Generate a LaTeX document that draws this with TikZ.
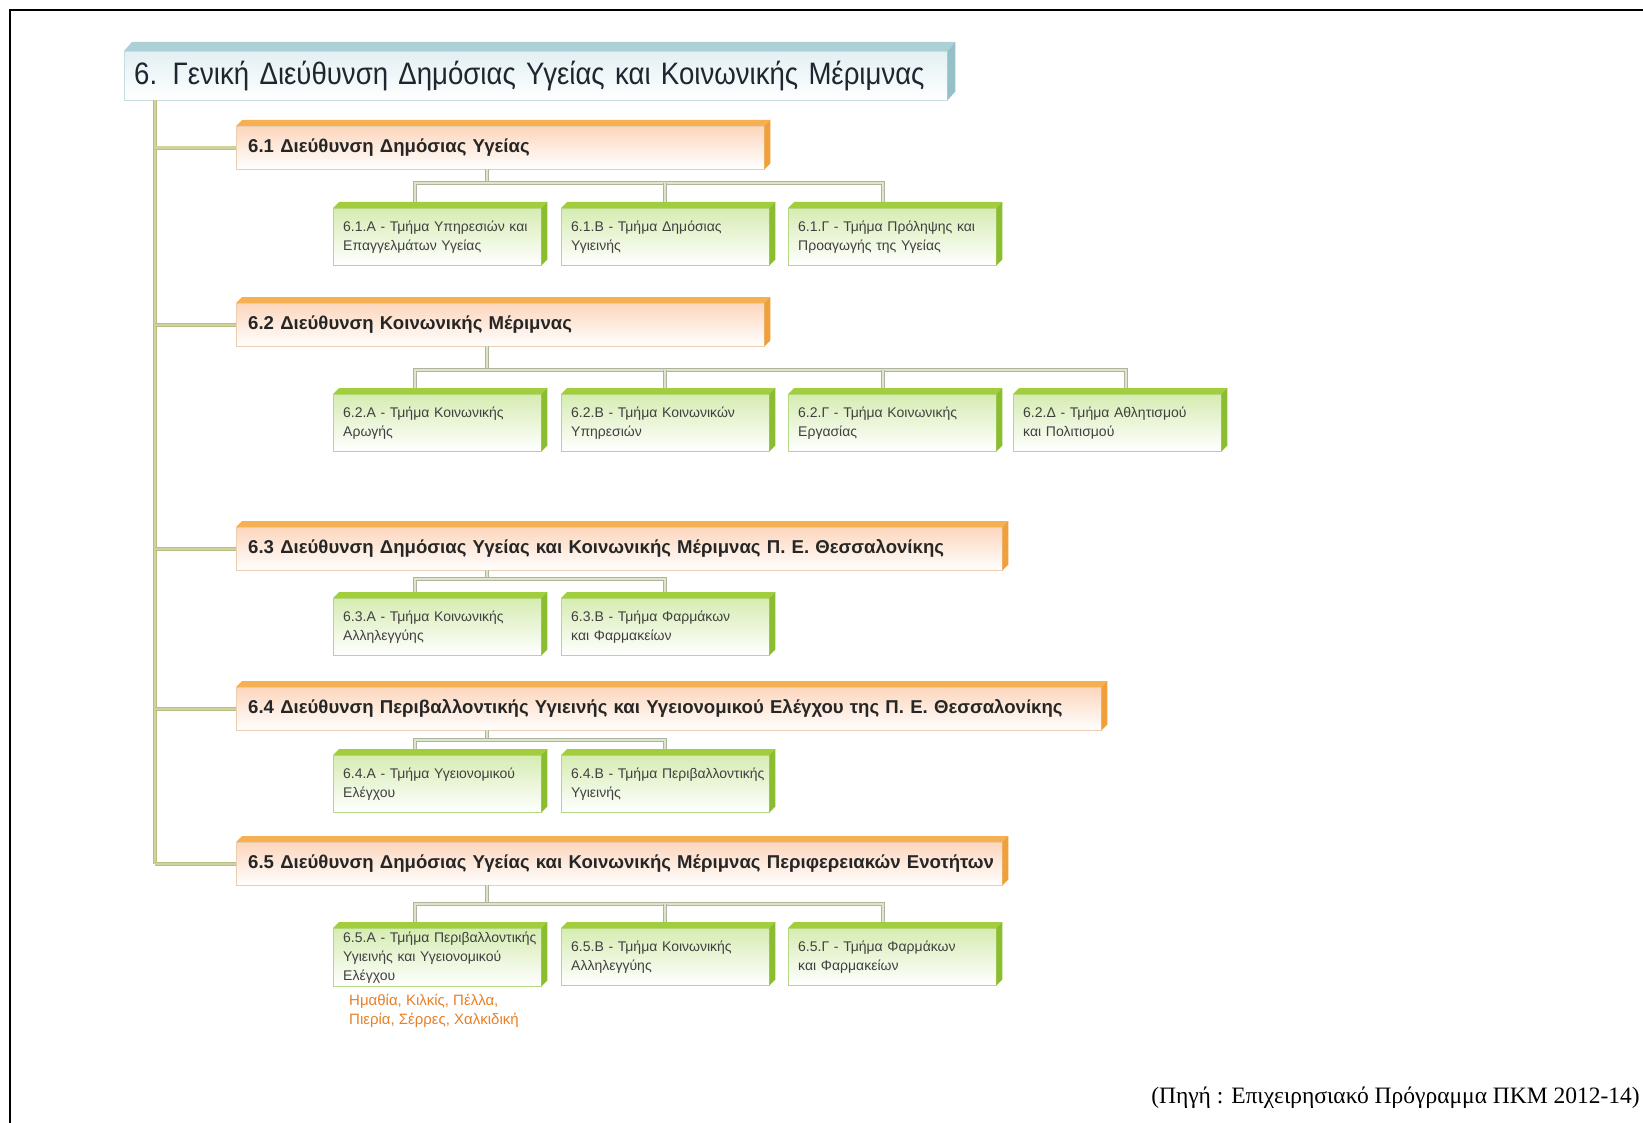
\documentclass[tikz,border=0pt]{standalone}
\usepackage{fontspec}
\setmainfont{Liberation Sans}
\newfontfamily\titlefont[FakeStretch=0.89]{Liberation Sans}
\newfontfamily\srcfont{Liberation Serif}
\usetikzlibrary{positioning}

\definecolor{genface}{RGB}{226,240,243}
\definecolor{gentop}{RGB}{172,208,214}
\definecolor{genside}{RGB}{150,192,200}
\definecolor{genline}{RGB}{200,220,225}
\definecolor{gentext}{RGB}{30,38,48}
\definecolor{dirface}{RGB}{252,214,188}
\definecolor{dirtop}{RGB}{246,176,82}
\definecolor{dirside}{RGB}{240,160,58}
\definecolor{dirline}{RGB}{236,205,178}
\definecolor{unitface}{RGB}{214,236,178}
\definecolor{unittop}{RGB}{162,206,62}
\definecolor{unitside}{RGB}{138,190,48}
\definecolor{unitline}{RGB}{182,216,132}
\definecolor{linkedge}{RGB}{175,180,160}
\definecolor{linkfill}{RGB}{222,230,200}
\definecolor{trunkedge}{RGB}{186,190,128}
\definecolor{trunkfill}{RGB}{208,212,156}
\definecolor{notetext}{RGB}{232,128,40}

\begin{document}
\begin{tikzpicture}[
  x=1pt, y=-1pt,
  gen/.style={draw=genline, top color=genface, bottom color=white, anchor=north west,
    minimum height=49, inner xsep=10, text width=803, align=left,
    font=\titlefont\fontsize{31}{36}\selectfont, text=gentext},
  dir/.style={draw=dirline, top color=dirface, bottom color=white, anchor=north west,
    minimum height=43, inner xsep=12, align=left,
    font=\bfseries\fontsize{18.6}{21}\selectfont, text=black!85},
  unit/.style={draw=unitline, top color=unitface, bottom color=white, anchor=north west,
    minimum height=57, inner xsep=10, text width=188, align=left,
    font=\fontsize{14}{19}\selectfont, text=black!75},
  note/.style={anchor=north west, align=left, inner sep=0,
    font=\fontsize{15}{19}\selectfont, text=notetext},
  source/.style={anchor=east, inner sep=0, font=\srcfont\fontsize{23.5}{26}\selectfont},
  link/.style={draw=linkfill, line width=1.6, preaction={draw=linkedge, line width=3.6}},
  trunk/.style={draw=trunkfill, line width=2.4, preaction={draw=trunkedge, line width=4.2}}
]
\useasboundingbox (0,0) rectangle (1643,1123);
\fill [white] (0,0) rectangle (1643,1123);
\draw [line width=1.5] (10,1123) -- (10,10) -- (1643,10);

\node [gen] (gen) at (124,51) {6. Γενική Διεύθυνση Δημόσιας Υγείας και Κοινωνικής Μέριμνας};

\node [dir, text width=504] (h61) at (236,126) {\mbox{6.1 Διεύθυνση Δημόσιας Υγείας}};
\node [dir, text width=504] (h62) at (236,303) {\mbox{6.2 Διεύθυνση Κοινωνικής Μέριμνας}};
\node [dir, text width=742] (h63) at (236,527) {\mbox{6.3 Διεύθυνση Δημόσιας Υγείας και Κοινωνικής Μέριμνας Π. Ε. Θεσσαλονίκης}};
\node [dir, text width=841] (h64) at (236,687) {\mbox{6.4 Διεύθυνση Περιβαλλοντικής Υγιεινής και Υγειονομικού Ελέγχου της Π. Ε. Θεσσαλονίκης}};
\node [dir, text width=742] (h65) at (236,842) {\mbox{6.5 Διεύθυνση Δημόσιας Υγείας και Κοινωνικής Μέριμνας Περιφερειακών Ενοτήτων}};

\node [unit] (u61a) at (333,208) {6.1.Α - Τμήμα Υπηρεσιών και\\Επαγγελμάτων Υγείας};
\node [unit] (u61b) at (561,208) {6.1.Β - Τμήμα Δημόσιας\\Υγιεινής};
\node [unit] (u61c) at (788,208) {6.1.Γ - Τμήμα Πρόληψης και\\Προαγωγής της Υγείας};

\node [unit] (u62a) at (333,394) {6.2.Α - Τμήμα Κοινωνικής\\Αρωγής};
\node [unit] (u62b) at (561,394) {6.2.Β - Τμήμα Κοινωνικών\\Υπηρεσιών};
\node [unit] (u62c) at (788,394) {6.2.Γ - Τμήμα Κοινωνικής\\Εργασίας};
\node [unit] (u62d) at (1013,394) {6.2.Δ - Τμήμα Αθλητισμού\\και Πολιτισμού};

\node [unit] (u63a) at (333,598) {6.3.Α - Τμήμα Κοινωνικής\\Αλληλεγγύης};
\node [unit] (u63b) at (561,598) {6.3.Β - Τμήμα Φαρμάκων\\και Φαρμακείων};

\node [unit] (u64a) at (333,755) {6.4.Α - Τμήμα Υγειονομικού\\Ελέγχου};
\node [unit] (u64b) at (561,755) {\mbox{6.4.Β - Τμήμα Περιβαλλοντικής}\\Υγιεινής};

\node [unit] (u65a) at (333,928) {\mbox{6.5.Α - Τμήμα Περιβαλλοντικής}\\Υγιεινής και Υγειονομικού\\Ελέγχου};
\node [unit] (u65b) at (561,928) {6.5.Β - Τμήμα Κοινωνικής\\Αλληλεγγύης};
\node [unit] (u65c) at (788,928) {6.5.Γ - Τμήμα Φαρμάκων\\και Φαρμακείων};

\node [note] (n65) at ([shift={(16,7)}]u65a.south west) {Ημαθία, Κιλκίς, Πέλλα,\\Πιερία, Σέρρες, Χαλκιδική};

\node [source] (src) at (1640,1098) {(Πηγή : Επιχειρησιακό Πρόγραμμα ΠΚΜ 2012-14)};

% 3d faces
\fill [gentop] (gen.north west) -- ++(8,-9) -- ([shift={(8,-9)}]gen.north east) -- (gen.north east) -- cycle;
\fill [genside] (gen.north east) -- ++(8,-9) -- ([shift={(8,-9)}]gen.south east) -- (gen.south east) -- cycle;
\foreach \n in {h61,h62,h63,h64,h65} {
  \fill [dirtop] (\n.north west) -- ++(6,-6) -- ([shift={(6,-6)}]\n.north east) -- (\n.north east) -- cycle;
  \fill [dirside] (\n.north east) -- ++(6,-6) -- ([shift={(6,-6)}]\n.south east) -- (\n.south east) -- cycle;
}
\foreach \n in {u61a,u61b,u61c,u62a,u62b,u62c,u62d,u63a,u63b,u64a,u64b,u65a,u65b,u65c} {
  \fill [unittop] (\n.north west) -- ++(6,-6) -- ([shift={(6,-6)}]\n.north east) -- (\n.north east) -- cycle;
  \fill [unitside] (\n.north east) -- ++(6,-6) -- ([shift={(6,-6)}]\n.south east) -- (\n.south east) -- cycle;
}

% trunk and branches
\coordinate (t0) at ([xshift=31]gen.south west);
\draw [trunk] (t0) -- (t0 |- h65.west);
\draw [trunk] (t0 |- h61.west) -- (h61.west);
\draw [trunk] (t0 |- h62.west) -- (h62.west);
\draw [trunk] (t0 |- h63.west) -- (h63.west);
\draw [trunk] (t0 |- h64.west) -- (h64.west);
\draw [trunk] (t0 |- h65.west) -- (h65.west);

% 6.1
\coordinate (j61) at (487,183);
\draw [link] (j61 |- h61.south) -- (j61);
\draw [link] ([shift={(-22,-6)}]u61a.north) |- (j61) -| ([shift={(-9,-6)}]u61c.north);
\draw [link] ([yshift=6]u61b.north) -- (u61b.north |- j61);
% 6.2
\coordinate (j62) at (487,370);
\draw [link] (j62 |- h62.south) -- (j62);
\draw [link] ([shift={(-22,-6)}]u62a.north) |- (j62) -| ([shift={(9,-6)}]u62d.north);
\draw [link] ([yshift=6]u62b.north) -- (u62b.north |- j62);
\draw [link] ([shift={(-9,-6)}]u62c.north) -- ([xshift=-9]u62c.north |- j62);
% 6.3
\coordinate (j63) at (487,579);
\draw [link] (j63 |- h63.south) -- (j63);
\draw [link] ([shift={(-22,-6)}]u63a.north) |- (j63) -| ([yshift=6]u63b.north);
% 6.4
\coordinate (j64) at (487,740);
\draw [link] (j64 |- h64.south) -- (j64);
\draw [link] ([shift={(-22,-6)}]u64a.north) |- (j64) -| ([yshift=6]u64b.north);
% 6.5
\coordinate (j65) at (487,904);
\draw [link] (j65 |- h65.south) -- (j65);
\draw [link] ([shift={(-22,-6)}]u65a.north) |- (j65) -| ([shift={(-9,-6)}]u65c.north);
\draw [link] ([yshift=6]u65b.north) -- (u65b.north |- j65);
\end{tikzpicture}
\end{document}
